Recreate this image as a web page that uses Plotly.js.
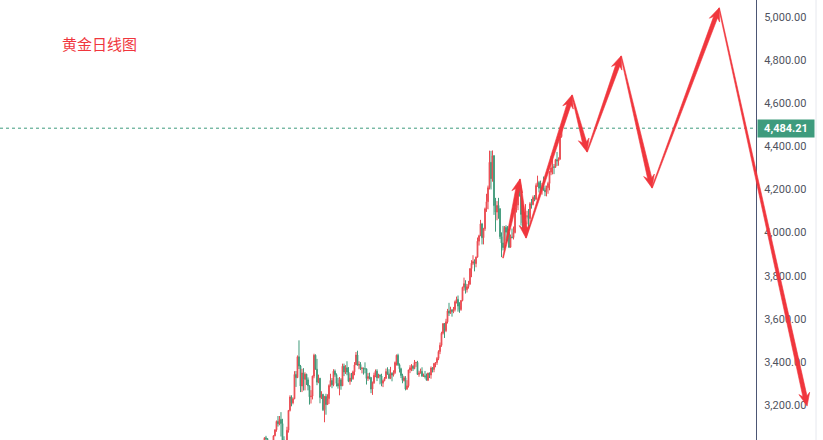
<!DOCTYPE html>
<html><head><meta charset="utf-8">
<script src="https://cdn.plot.ly/plotly-3.0.1.min.js"></script>
<style>html,body{margin:0;padding:0;background:#fff;}#chart{width:823px;height:440px;}</style>
</head><body><div id="chart"></div>
<script>
// Gold daily (XAUUSD) — one entry per trading day
const dates = ["2025-03-14","2025-03-17","2025-03-18","2025-03-19","2025-03-20","2025-03-21","2025-03-24","2025-03-25","2025-03-26","2025-03-27","2025-03-28","2025-03-31","2025-04-01","2025-04-02","2025-04-03","2025-04-04","2025-04-07","2025-04-08","2025-04-09","2025-04-10","2025-04-11","2025-04-14","2025-04-15","2025-04-16","2025-04-17","2025-04-21","2025-04-22","2025-04-23","2025-04-24","2025-04-25","2025-04-28","2025-04-29","2025-04-30","2025-05-01","2025-05-02","2025-05-05","2025-05-06","2025-05-07","2025-05-08","2025-05-09","2025-05-12","2025-05-13","2025-05-14","2025-05-15","2025-05-16","2025-05-19","2025-05-20","2025-05-21","2025-05-22","2025-05-23","2025-05-26","2025-05-27","2025-05-28","2025-05-29","2025-05-30","2025-06-02","2025-06-03","2025-06-04","2025-06-05","2025-06-06","2025-06-09","2025-06-10","2025-06-11","2025-06-12","2025-06-13","2025-06-16","2025-06-17","2025-06-18","2025-06-19","2025-06-20","2025-06-23","2025-06-24","2025-06-25","2025-06-26","2025-06-27","2025-06-30","2025-07-01","2025-07-02","2025-07-03","2025-07-04","2025-07-07","2025-07-08","2025-07-09","2025-07-10","2025-07-11","2025-07-14","2025-07-15","2025-07-16","2025-07-17","2025-07-18","2025-07-21","2025-07-22","2025-07-23","2025-07-24","2025-07-25","2025-07-28","2025-07-29","2025-07-30","2025-07-31","2025-08-01","2025-08-04","2025-08-05","2025-08-06","2025-08-07","2025-08-08","2025-08-11","2025-08-12","2025-08-13","2025-08-14","2025-08-15","2025-08-18","2025-08-19","2025-08-20","2025-08-21","2025-08-22","2025-08-25","2025-08-26","2025-08-27","2025-08-28","2025-08-29","2025-09-01","2025-09-02","2025-09-03","2025-09-04","2025-09-05","2025-09-08","2025-09-09","2025-09-10","2025-09-11","2025-09-12","2025-09-15","2025-09-16","2025-09-17","2025-09-18","2025-09-19","2025-09-22","2025-09-23","2025-09-24","2025-09-25","2025-09-26","2025-09-29","2025-09-30","2025-10-01","2025-10-02","2025-10-03","2025-10-06","2025-10-07","2025-10-08","2025-10-09","2025-10-10","2025-10-13","2025-10-14","2025-10-15","2025-10-16","2025-10-17","2025-10-20","2025-10-21","2025-10-22","2025-10-23","2025-10-24","2025-10-27","2025-10-28","2025-10-29","2025-10-30","2025-10-31","2025-11-03","2025-11-04","2025-11-05","2025-11-06","2025-11-07","2025-11-10","2025-11-11","2025-11-12","2025-11-13","2025-11-14","2025-11-17","2025-11-18","2025-11-19","2025-11-20","2025-11-21","2025-11-24","2025-11-25","2025-11-26","2025-11-27","2025-11-28","2025-12-01","2025-12-02","2025-12-03","2025-12-04","2025-12-05","2025-12-08","2025-12-09","2025-12-10","2025-12-11","2025-12-12","2025-12-15","2025-12-16","2025-12-17","2025-12-18","2025-12-19","2025-12-22","2025-12-23"];
const open  = [2989,2984,3000,3034,3048,3044,3022,3011,3020,3019,3057,3085,3124,3113,3133,3114,3037,2982,2983,3083,3175,3237,3210,3229,3342,3327,3424,3381,3288,3349,3319,3343,3317,3289,3238,3241,3334,3431,3366,3306,3324,3235,3249,3178,3240,3202,3230,3290,3314,3294,3357,3341,3300,3288,3317,3289,3380,3353,3373,3353,3310,3325,3322,3354,3386,3432,3385,3388,3369,3370,3368,3368,3323,3332,3328,3274,3303,3338,3357,3326,3337,3335,3301,3313,3324,3355,3343,3324,3347,3339,3350,3397,3431,3387,3368,3337,3314,3326,3274,3289,3363,3373,3380,3369,3397,3398,3342,3348,3356,3335,3336,3332,3315,3348,3339,3372,3365,3393,3397,3416,3448,3477,3533,3578,3545,3586,3636,3626,3641,3634,3643,3679,3690,3659,3643,3685,3746,3763,3735,3749,3760,3833,3858,3865,3856,3886,3960,3985,4040,3976,4018,4110,4143,4208,4326,4250,4356,4125,4095,4126,4111,3981,3952,3930,4024,4002,4000,3932,3980,3977,4000,4115,4128,4195,4172,4084,4045,4066,4077,4077,4065,4134,4130,4163,4155,4218,4232,4206,4206,4208,4197,4189,4208,4228,4280,4300,4305,4303,4338,4332,4340,4445];
const high  = [3005,3001,3038,3050,3057,3047,3035,3025,3035,3060,3087,3128,3149,3149,3167,3136,3055,3023,3099,3176,3245,3245,3235,3357,3358,3430,3500,3386,3368,3371,3352,3345,3328,3291,3269,3336,3438,3435,3414,3341,3326,3264,3252,3240,3252,3250,3296,3345,3325,3366,3365,3347,3326,3330,3325,3392,3392,3385,3403,3376,3347,3349,3360,3399,3446,3452,3403,3399,3377,3374,3398,3369,3348,3350,3329,3309,3350,3365,3366,3345,3343,3345,3318,3330,3369,3375,3366,3377,3352,3361,3402,3434,3438,3393,3373,3345,3334,3334,3315,3363,3385,3390,3385,3409,3400,3405,3359,3369,3375,3346,3358,3346,3350,3351,3379,3376,3394,3398,3423,3454,3490,3540,3578,3579,3600,3646,3674,3656,3646,3655,3685,3703,3708,3677,3686,3749,3791,3779,3761,3776,3834,3872,3895,3876,3889,3977,3990,4059,4045,4022,4116,4180,4218,4380,4379,4381,4360,4161,4146,4161,4112,4001,4031,4030,4034,4030,4005,3991,4019,4028,4124,4148,4211,4245,4211,4108,4082,4132,4101,4109,4142,4156,4172,4174,4228,4264,4240,4241,4230,4260,4218,4218,4236,4285,4354,4353,4318,4342,4374,4349,4448,4497];
const low   = [2975,2982,2998,3024,3030,2999,3000,3009,3013,3016,3055,3076,3100,3106,3054,3015,2957,2970,2975,3072,3170,3194,3203,3227,3284,3325,3367,3260,3260,3267,3268,3293,3268,3202,3207,3226,3324,3364,3292,3301,3208,3228,3172,3120,3155,3205,3205,3285,3278,3287,3331,3286,3276,3245,3271,3290,3334,3344,3338,3306,3294,3308,3317,3338,3386,3383,3366,3362,3347,3341,3347,3295,3312,3319,3255,3247,3298,3329,3311,3325,3296,3287,3283,3310,3321,3341,3320,3320,3310,3332,3344,3383,3381,3351,3325,3301,3309,3268,3270,3281,3348,3357,3358,3366,3377,3340,3331,3346,3330,3330,3323,3315,3311,3325,3322,3351,3352,3375,3386,3408,3436,3470,3527,3511,3538,3578,3613,3623,3610,3626,3634,3671,3633,3628,3637,3681,3730,3717,3722,3740,3759,3793,3850,3820,3839,3884,3940,3984,3945,3945,4008,4096,4108,4200,4200,4236,4082,4004,4057,4064,3970,3886,3917,3921,3963,3960,3928,3930,3973,3968,3996,4093,4104,4167,4032,4018,3997,4062,4038,4022,4040,4111,4126,4145,4150,4212,4186,4185,4176,4194,4169,4168,4180,4196,4266,4270,4271,4300,4309,4310,4338,4440];
const close = [2984,3000,3034,3048,3044,3022,3011,3020,3019,3057,3085,3124,3113,3133,3114,3037,2982,2983,3083,3175,3237,3210,3229,3342,3327,3424,3381,3288,3349,3319,3343,3317,3289,3238,3241,3334,3431,3366,3306,3324,3235,3249,3178,3240,3202,3230,3290,3314,3294,3357,3341,3300,3288,3317,3289,3380,3353,3373,3353,3310,3325,3322,3354,3386,3432,3385,3388,3369,3370,3368,3368,3323,3332,3328,3274,3303,3338,3357,3326,3337,3335,3301,3313,3324,3355,3343,3324,3347,3339,3350,3397,3431,3387,3368,3337,3314,3326,3274,3289,3363,3373,3380,3369,3397,3398,3342,3348,3356,3335,3336,3332,3315,3348,3339,3372,3365,3393,3397,3416,3448,3477,3533,3578,3545,3586,3636,3626,3641,3634,3643,3679,3690,3659,3643,3685,3746,3763,3735,3749,3760,3833,3858,3865,3856,3886,3960,3985,4040,3976,4018,4110,4143,4208,4326,4250,4356,4125,4095,4126,4111,3981,3952,3930,4024,4002,4000,3932,3980,3977,4000,4115,4128,4195,4172,4084,4045,4066,4077,4077,4065,4134,4130,4163,4155,4218,4232,4206,4206,4208,4197,4189,4208,4228,4280,4300,4305,4303,4338,4332,4340,4445,4484.21];

// Drawn forecast path (bar index, price) — successive arrows
const pathIdx   = [162, 173.3, 177.3, 208, 218, 240.7, 261.3, 306, 364.7];
const pathPrice = [3882, 4248, 3975, 4638, 4374, 4819, 4207, 5042, 3195];

const lastPrice = 4484.21;
const priceTicks = [3200,3400,3600,3800,4000,4200,4400,4600,4800,5000];
const titleText = "黄金日线图";

const W = 823, H = 440;
const xr = [-173.3, 375.3], yr = [3037.7, 5078.9];
const RED = '#f0363d', UP = '#eb4a50', DOWN = '#3f9a7a', TEAL = '#3e9b7d';
const axisPos = 756 / W;

const idx = dates.map((d, i) => i);

function px(x){ return (x - xr[0]) / (xr[1] - xr[0]) * W; }
function py(y){ return H - (y - yr[0]) / (yr[1] - yr[0]) * H; }
function ix(p){ return xr[0] + p / W * (xr[1] - xr[0]); }
function iy(p){ return yr[0] + (H - p) / H * (yr[1] - yr[0]); }

function arrowShape(x0, y0, x1, y1){
  const X0 = px(x0), Y0 = py(y0), X1 = px(x1), Y1 = py(y1);
  const dx = X1 - X0, dy = Y1 - Y0, L = Math.hypot(dx, dy);
  const ux = dx / L, uy = dy / L, nx = -uy, ny = ux;
  const hl = 13, hw = 5.5, w0 = 0.4, w1 = 2.1, notch = 3;
  const bx = X1 - ux * hl, by = Y1 - uy * hl;
  const nbx = X1 - ux * (hl - notch), nby = Y1 - uy * (hl - notch);
  const pts = [
    [X0 + nx * w0, Y0 + ny * w0],
    [nbx + nx * w1, nby + ny * w1],
    [bx + nx * hw, by + ny * hw],
    [X1, Y1],
    [bx - nx * hw, by - ny * hw],
    [nbx - nx * w1, nby - ny * w1],
    [X0 - nx * w0, Y0 - ny * w0]
  ];
  const d = pts.map((p, k) => (k ? 'L' : 'M') + ix(p[0]).toFixed(3) + ',' + iy(p[1]).toFixed(3)).join(' ') + ' Z';
  return {type: 'path', xref: 'x', yref: 'y', path: d, fillcolor: RED, line: {color: RED, width: 0.6}, layer: 'above'};
}

const shapes = [
  {type: 'line', xref: 'paper', yref: 'y', x0: 0, x1: axisPos, y0: lastPrice, y1: lastPrice,
   line: {color: TEAL, width: 1, dash: 'dot'}},
  {type: 'line', xref: 'paper', yref: 'paper', x0: 816 / W, x1: 816 / W, y0: 0, y1: 1,
   line: {color: '#e6e8ee', width: 1}}
];
for (let k = 0; k < pathIdx.length - 1; k++) {
  shapes.push(arrowShape(pathIdx[k], pathPrice[k], pathIdx[k + 1], pathPrice[k + 1]));
}

const trace = {
  type: 'candlestick', x: idx, open: open, high: high, low: low, close: close,
  increasing: {line: {color: UP, width: 1}, fillcolor: UP},
  decreasing: {line: {color: DOWN, width: 1}, fillcolor: DOWN},
  whiskerwidth: 0, hoverinfo: 'skip', showlegend: false
};

const layout = {
  width: W, height: H, margin: {l: 0, r: 0, t: 0, b: 0},
  paper_bgcolor: '#ffffff', plot_bgcolor: '#ffffff',
  showlegend: false,
  xaxis: {range: xr, visible: false, rangeslider: {visible: false}, fixedrange: true},
  yaxis: {range: yr, side: 'right', anchor: 'free', position: axisPos,
          tickvals: priceTicks, tickformat: ',.2f', showgrid: false, zeroline: false,
          showline: true, linecolor: '#4c5674', linewidth: 1,
          ticks: 'outside', ticklen: 5, tickcolor: 'rgba(0,0,0,0)',
          tickfont: {family: 'Roboto, Arial, sans-serif', size: 11, color: '#50535e'}},
  shapes: shapes,
  annotations: [
    {xref: 'paper', yref: 'paper', x: 60 / W, y: 1 - 43 / H, xanchor: 'left', yanchor: 'middle',
     text: titleText, showarrow: false,
     font: {family: '"Noto Sans CJK SC", sans-serif', size: 15, color: RED}},
    {xref: 'paper', yref: 'y', x: 757 / W, y: lastPrice, xanchor: 'left', yanchor: 'middle',
     text: '<b>' + lastPrice.toLocaleString('en-US', {minimumFractionDigits: 2}) + '</b>',
     showarrow: false, bgcolor: TEAL, borderpad: 2, width: 52,
     font: {family: 'Roboto, Arial, sans-serif', size: 11, color: '#ffffff'}}
  ]
};

Plotly.newPlot('chart', [trace], layout, {displayModeBar: false, staticPlot: true});
</script></body></html>
